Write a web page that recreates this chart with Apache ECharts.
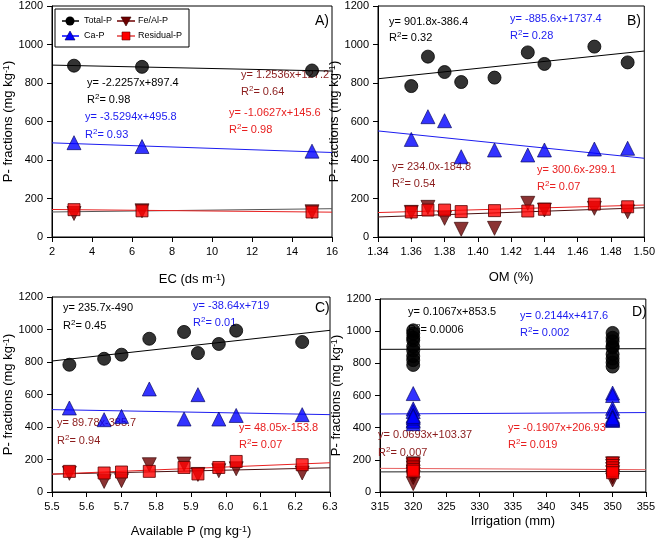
<!DOCTYPE html>
<html>
<head>
<meta charset="utf-8">
<script src="https://cdn.jsdelivr.net/npm/echarts@6/dist/echarts.min.js"></script>
<style>
  html, body { margin: 0; padding: 0; background: #fff; }
  #chart { width: 658px; height: 541px; }
</style>
</head>
<body>
<div id="chart"></div>
<script>
// ---- data ----
// A) EC
var ecA = [3.1, 6.5, 15.0];
var totalA = [890, 884, 865];
var caA = [490, 470, 446];
var feA = [122, 136, 131];
var resA = [142, 136, 130];

// B) OM
var omB = [1.36, 1.37, 1.38, 1.39, 1.41, 1.43, 1.44, 1.47, 1.49];
var totalB = [784, 937, 857, 805, 828, 959, 899, 989, 907];
var caB = [507, 625, 604, 417, 452, 426, 452, 457, 461];
var feB = [128, 154, 97, 40, 45, 175, 140, 149, 131];
var resB = [130, 140, 140, 132, 137, 135, 144, 171, 157];

// C) Available P
var apC = [5.55, 5.65, 5.70, 5.78, 5.88, 5.92, 5.98, 6.03, 6.22];
var totalC = [783, 820, 845, 943, 985, 855, 911, 993, 923];
var caC = [517, 445, 465, 634, 449, 599, 449, 471, 476];
var feC = [115, 65, 70, 168, 172, 108, 131, 143, 117];
var resC = [127, 117, 123, 127, 151, 111, 151, 188, 168];

// D) Irrigation (two levels)
var totalD320 = [790, 820, 845, 880, 905, 943, 960, 985, 1005];
var totalD350 = [780, 805, 830, 857, 899, 907, 937, 959, 989];
var caD320 = [612, 517, 500, 476, 446, 425, 440, 460, 470];
var caD350 = [615, 600, 520, 500, 470, 455, 445, 450, 460];
var feD320 = [52, 90, 110, 125, 150, 165, 175];
var feD350 = [75, 95, 120, 140, 160, 175];
var resD320 = [176, 160, 150, 140, 130];
var resD350 = [180, 165, 150, 135, 120];

// regression line end values (at the axis ends)
var fitXA = [2, 16], fitTotalA = [893, 862], fitCaA = [489, 439], fitFeA = [130, 147], fitResA = [143, 129];
var fitXB = [1.34, 1.50], fitTotalB = [822, 966], fitCaB = [551, 409], fitFeB = [104, 152], fitResB = [127, 166];
var fitXC = [5.5, 6.3], fitTotalC = [806, 995], fitCaC = [507, 476], fitFeC = [110, 149], fitResC = [110, 180];
var fitXD = [315, 355], fitTotalD = [887, 891], fitCaD = [485, 494], fitFeD = [125, 128], fitResD = [147, 139];

var FONT = 'Arial, "Liberation Sans", sans-serif';
var C_BLACK = '#000000', C_BLUE = '#1c1cf0', C_MAROON = '#8b1c1c', C_RED = '#e82020';

var myChart = echarts.init(document.getElementById('chart'));

function pairs(xs, ys) {
    return ys.map(function (v, i) { return [xs[i], v]; });
}
function atX(x, ys) {
    return ys.map(function (v) { return [x, v]; });
}

var symTotal = { symbol: 'circle', symbolSize: 13, itemStyle: { color: '#000', borderColor: '#000', borderWidth: 1 } };
var symCa = { symbol: 'triangle', symbolSize: 14, itemStyle: { color: '#0000ff', borderColor: '#00005a', borderWidth: 0.8 } };
var symFe = { symbol: 'triangle', symbolSize: 14, symbolRotate: 180, itemStyle: { color: '#6e0000', borderColor: '#300000', borderWidth: 0.8 } };
var symRes = { symbol: 'rect', symbolSize: 12, itemStyle: { color: '#ff0000', borderColor: '#5a0000', borderWidth: 1 } };

function scatter(name, idx, data, sym) {
    return {
        type: 'scatter', name: name, xAxisIndex: idx, yAxisIndex: idx, data: data,
        symbol: sym.symbol, symbolSize: sym.symbolSize, symbolRotate: sym.symbolRotate || 0,
        itemStyle: sym.itemStyle, z: 3, silent: true
    };
}
function fitLine(idx, xs, ys, color) {
    return {
        type: 'line', xAxisIndex: idx, yAxisIndex: idx, data: pairs(xs, ys),
        symbol: 'none', lineStyle: { color: color, width: 1 }, z: 2, silent: true
    };
}

var grids = [
    { left: 52, top: 6, width: 280, height: 231 },
    { left: 378, top: 6, width: 267, height: 231 },
    { left: 52, top: 297, width: 278, height: 195 },
    { left: 380, top: 299, width: 270, height: 193 }
];
grids.forEach(function (g) { g.show = true; g.borderColor = '#000'; g.borderWidth = 1; });

var axisRich = {
    t: { fontSize: 13, fontFamily: FONT, color: '#000' },
    s: { fontSize: 9, fontFamily: FONT, color: '#000', verticalAlign: 'top' }
};

function xAxis(idx, min, max, interval, name, gap, dec) {
    return {
        type: 'value', gridIndex: idx, min: min, max: max, interval: interval,
        name: name, nameLocation: 'middle', nameGap: gap,
        nameTextStyle: { rich: axisRich },
        axisLine: { lineStyle: { color: '#000', width: 1 } },
        axisTick: { inside: false, length: 5, lineStyle: { color: '#000' } },
        axisLabel: {
            margin: 9, fontSize: 11, fontFamily: FONT, color: '#000',
            formatter: function (v) { return dec ? v.toFixed(dec) : String(Math.round(v)); }
        },
        splitLine: { show: false }
    };
}
function yAxis(idx, gap) {
    return {
        type: 'value', gridIndex: idx, min: 0, max: 1200, interval: 200,
        name: '{t|P- fractions (mg kg}{s|-1}{t|)}', nameLocation: 'middle', nameGap: gap,
        nameTextStyle: { rich: axisRich },
        axisLine: { lineStyle: { color: '#000', width: 1 } },
        axisTick: { inside: false, length: 5, lineStyle: { color: '#000' } },
        axisLabel: {
            margin: 9, fontSize: 11, fontFamily: FONT, color: '#000',
            formatter: function (v) { return String(Math.round(v)); }
        },
        splitLine: { show: false }
    };
}

var series = [
    // A
    fitLine(0, fitXA, fitTotalA, C_BLACK), fitLine(0, fitXA, fitCaA, C_BLUE),
    fitLine(0, fitXA, fitFeA, '#555'), fitLine(0, fitXA, fitResA, C_RED),
    scatter('Total-P', 0, pairs(ecA, totalA), symTotal),
    scatter('Ca-P', 0, pairs(ecA, caA), symCa),
    scatter('Fe/Al-P', 0, pairs(ecA, feA), symFe),
    scatter('Residual-P', 0, pairs(ecA, resA), symRes),
    // B
    fitLine(1, fitXB, fitTotalB, C_BLACK), fitLine(1, fitXB, fitCaB, C_BLUE),
    fitLine(1, fitXB, fitFeB, '#4a1010'), fitLine(1, fitXB, fitResB, C_RED),
    scatter('Total-P', 1, pairs(omB, totalB), symTotal),
    scatter('Ca-P', 1, pairs(omB, caB), symCa),
    scatter('Fe/Al-P', 1, pairs(omB, feB), symFe),
    scatter('Residual-P', 1, pairs(omB, resB), symRes),
    // C
    fitLine(2, fitXC, fitTotalC, C_BLACK), fitLine(2, fitXC, fitCaC, C_BLUE),
    fitLine(2, fitXC, fitFeC, '#4a1010'), fitLine(2, fitXC, fitResC, C_RED),
    scatter('Total-P', 2, pairs(apC, totalC), symTotal),
    scatter('Ca-P', 2, pairs(apC, caC), symCa),
    scatter('Fe/Al-P', 2, pairs(apC, feC), symFe),
    scatter('Residual-P', 2, pairs(apC, resC), symRes),
    // D
    fitLine(3, fitXD, fitTotalD, C_BLACK), fitLine(3, fitXD, fitCaD, C_BLUE),
    fitLine(3, fitXD, fitFeD, '#222'), fitLine(3, fitXD, fitResD, '#e86060'),
    scatter('Total-P', 3, atX(320, totalD320).concat(atX(350, totalD350)), symTotal),
    scatter('Ca-P', 3, atX(320, caD320).concat(atX(350, caD350)), symCa),
    scatter('Fe/Al-P', 3, atX(320, feD320).concat(atX(350, feD350)), symFe),
    scatter('Residual-P', 3, atX(320, resD320).concat(atX(350, resD350)), symRes)
];

// equation / R² labels
function eq(x, y, text, color) {
    return { type: 'text', x: x, y: y, z: 1, style: { text: text, fill: color, font: '11px ' + FONT, verticalAlign: 'middle' } };
}
function r2(x, y, value, color) {
    return {
        type: 'text', x: x, y: y, z: 1,
        style: {
            text: '{t|R}{s|2}{t|= ' + value + '}', fill: color, verticalAlign: 'middle',
            rich: {
                t: { fontSize: 11, fontFamily: FONT, fill: color, color: color, lineHeight: 14 },
                s: { fontSize: 8, fontFamily: FONT, fill: color, color: color, verticalAlign: 'top', lineHeight: 14 }
            }
        }
    };
}
function panelTag(x, y, t) {
    return { type: 'text', x: x, y: y, z: 1, style: { text: t, fill: '#000', font: '14px ' + FONT, verticalAlign: 'middle' } };
}

var graphics = [
    panelTag(315, 21, 'A)'), panelTag(627, 21, 'B)'), panelTag(315, 308, 'C)'), panelTag(632, 312, 'D)'),
    // A
    eq(87, 83, 'y= -2.2257x+897.4', C_BLACK), r2(87, 100, '0.98', C_BLACK),
    eq(241, 75, 'y= 1.2536x+127.2', C_MAROON), r2(241, 92, '0.64', C_MAROON),
    eq(85, 117, 'y= -3.5294x+495.8', C_BLUE), r2(85, 135, '0.93', C_BLUE),
    eq(229, 113, 'y= -1.0627x+145.6', C_RED), r2(229, 130, '0.98', C_RED),
    // B
    eq(389, 22, 'y= 901.8x-386.4', C_BLACK), r2(389, 38, '0.32', C_BLACK),
    eq(510, 19, 'y= -885.6x+1737.4', C_BLUE), r2(510, 36, '0.28', C_BLUE),
    eq(392, 167, 'y= 234.0x-184.8', C_MAROON), r2(392, 184, '0.54', C_MAROON),
    eq(537, 170, 'y= 300.6x-299.1', C_RED), r2(537, 187, '0.07', C_RED),
    // C
    eq(63, 308, 'y= 235.7x-490', C_BLACK), r2(63, 326, '0.45', C_BLACK),
    eq(193, 306, 'y= -38.64x+719', C_BLUE), r2(193, 323, '0.01', C_BLUE),
    eq(57, 423, 'y= 89.78x-385.7', C_MAROON), r2(57, 441, '0.94', C_MAROON),
    eq(239, 428, 'y= 48.05x-153.8', C_RED), r2(239, 445, '0.07', C_RED),
    // D
    eq(408, 312, 'y= 0.1067x+853.5', C_BLACK), r2(408, 330, '0.0006', C_BLACK),
    eq(520, 316, 'y= 0.2144x+417.6', C_BLUE), r2(520, 333, '0.002', C_BLUE),
    eq(378, 435, 'y= 0.0693x+103.37', C_MAROON), r2(378, 453, '0.007', C_MAROON),
    eq(508, 428, 'y= -0.1907x+206.93', C_RED), r2(508, 445, '0.019', C_RED),

    // legend box in panel A
    { type: 'rect', z: 5, shape: { x: 55, y: 9, width: 134, height: 38 }, style: { fill: '#fff', stroke: '#000', lineWidth: 1 } },
    { type: 'line', z: 6, shape: { x1: 62, y1: 21, x2: 79, y2: 21 }, style: { stroke: '#000', lineWidth: 1.5 } },
    { type: 'circle', z: 7, shape: { cx: 70, cy: 21, r: 4.5 }, style: { fill: '#000' } },
    { type: 'line', z: 6, shape: { x1: 62, y1: 36, x2: 79, y2: 36 }, style: { stroke: '#0000ff', lineWidth: 1.5 } },
    { type: 'polygon', z: 7, shape: { points: [[70, 31], [75, 40], [65, 40]] }, style: { fill: '#0000ff', stroke: '#00005a', lineWidth: 0.6 } },
    { type: 'line', z: 6, shape: { x1: 117, y1: 21, x2: 135, y2: 21 }, style: { stroke: '#6e0000', lineWidth: 1.5 } },
    { type: 'polygon', z: 7, shape: { points: [[121, 17], [131, 17], [126, 26]] }, style: { fill: '#6e0000', stroke: '#300000', lineWidth: 0.6 } },
    { type: 'line', z: 6, shape: { x1: 117, y1: 36, x2: 135, y2: 36 }, style: { stroke: '#e04040', lineWidth: 1.5 } },
    { type: 'rect', z: 7, shape: { x: 122, y: 32, width: 8, height: 8 }, style: { fill: '#ff0000', stroke: '#5a0000', lineWidth: 0.6 } },
    { type: 'text', z: 7, x: 84, y: 21, style: { text: 'Total-P', fill: '#000', font: '9px ' + FONT, verticalAlign: 'middle' } },
    { type: 'text', z: 7, x: 84, y: 36, style: { text: 'Ca-P', fill: '#000', font: '9px ' + FONT, verticalAlign: 'middle' } },
    { type: 'text', z: 7, x: 138, y: 21, style: { text: 'Fe/Al-P', fill: '#000', font: '9px ' + FONT, verticalAlign: 'middle' } },
    { type: 'text', z: 7, x: 138, y: 36, style: { text: 'Residual-P', fill: '#000', font: '9px ' + FONT, verticalAlign: 'middle' } }
];

var option = {
    backgroundColor: '#fff',
    animation: false,
    grid: grids,
    xAxis: [
        xAxis(0, 2, 16, 2, '{t|EC (ds m}{s|-1}{t|)}', 36, 0),
        xAxis(1, 1.34, 1.50, 0.02, '{t|OM (%)}', 34, 2),
        xAxis(2, 5.5, 6.3, 0.1, '{t|Available P (mg kg}{s|-1}{t|)}', 33, 1),
        xAxis(3, 315, 355, 5, '{t|Irrigation (mm)}', 23, 0)
    ],
    yAxis: [yAxis(0, 31), yAxis(1, 32), yAxis(2, 31), yAxis(3, 35)],
    series: series,
    graphic: graphics
};

myChart.setOption(option);
</script>
</body>
</html>
